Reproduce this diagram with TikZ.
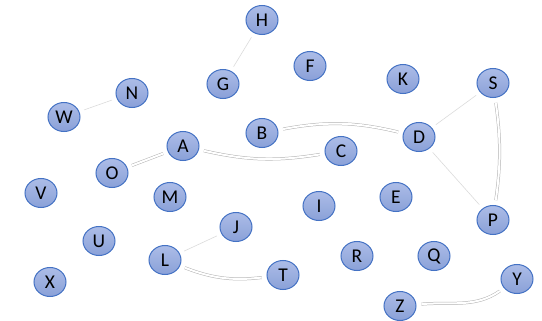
\documentclass[tikz,border=0pt]{standalone}
\usepackage{fontspec}
\setmainfont{Carlito}
\usetikzlibrary{shapes.geometric}

\definecolor{ballTop}{RGB}{172,189,231}
\definecolor{ballBot}{RGB}{138,160,216}
\definecolor{ballRim}{RGB}{68,114,196}

\tikzset{
  ball/.style={ellipse,minimum width=32pt,minimum height=29pt,inner sep=0pt,
    draw=ballRim,line width=1pt,top color=ballTop,bottom color=ballBot,
    font=\fontsize{19.5}{19.5}\selectfont},
  thin link/.style={draw=black!14,line width=0.6pt,shorten >=5pt,shorten <=5pt},
  twin link/.style={draw=black!30,line width=0.5pt,double=white,double distance=2pt,
    shorten >=5pt,shorten <=5pt}
}

\begin{document}
\begin{tikzpicture}[x=1pt,y=-1pt]

\useasboundingbox (0,0) rectangle (542,321);

% the letters
\node [ball] (H) at (262,20) {H};
\node [ball] (F) at (310,66) {F};
\node [ball] (K) at (403,79) {K};
\node [ball] (S) at (493,83) {S};
\node [ball] (G) at (223,84) {G};
\node [ball] (N) at (132,93) {N};
\node [ball] (W) at (64,117) {W};
\node [ball] (B) at (262,133) {B};
\node [ball] (D) at (419,137) {D};
\node [ball] (A) at (183,146) {A};
\node [ball] (C) at (341,151) {C};
\node [ball] (O) at (112,173) {O};
\node [ball] (V) at (41,193) {V};
\node [ball] (M) at (170,197) {M};
\node [ball] (E) at (396,197) {E};
\node [ball] (I) at (319,206) {I};
\node [ball] (P) at (493,220) {P};
\node [ball] (J) at (236,227) {J};
\node [ball] (U) at (99,241) {U};
\node [ball] (L) at (165,260) {L};
\node [ball] (R) at (357,256) {R};
\node [ball] (Q) at (434,256) {Q};
\node [ball] (T) at (283,275) {T};
\node [ball] (X) at (50,282) {X};
\node [ball] (Y) at (517,279) {Y};
\node [ball] (Z) at (400,306) {Z};

% single links
\draw [thin link] (H) -- (G);
\draw [thin link] (N) -- (W);
\draw [thin link] (D) -- (S);
\draw [thin link] (D) -- (P);
\draw [thin link] (J) -- (L);

% double links
\draw [twin link] (O) -- (A);
\draw [twin link] (A) to [bend right=11] (C);
\draw [twin link] (B) to [bend left=12] (D);
\draw [twin link] (S) to [bend left=8] (P);
\draw [twin link] (L) to [bend right=14] (T);
\draw [twin link] (Z) to [out=5,in=215] (Y);

\end{tikzpicture}
\end{document}
